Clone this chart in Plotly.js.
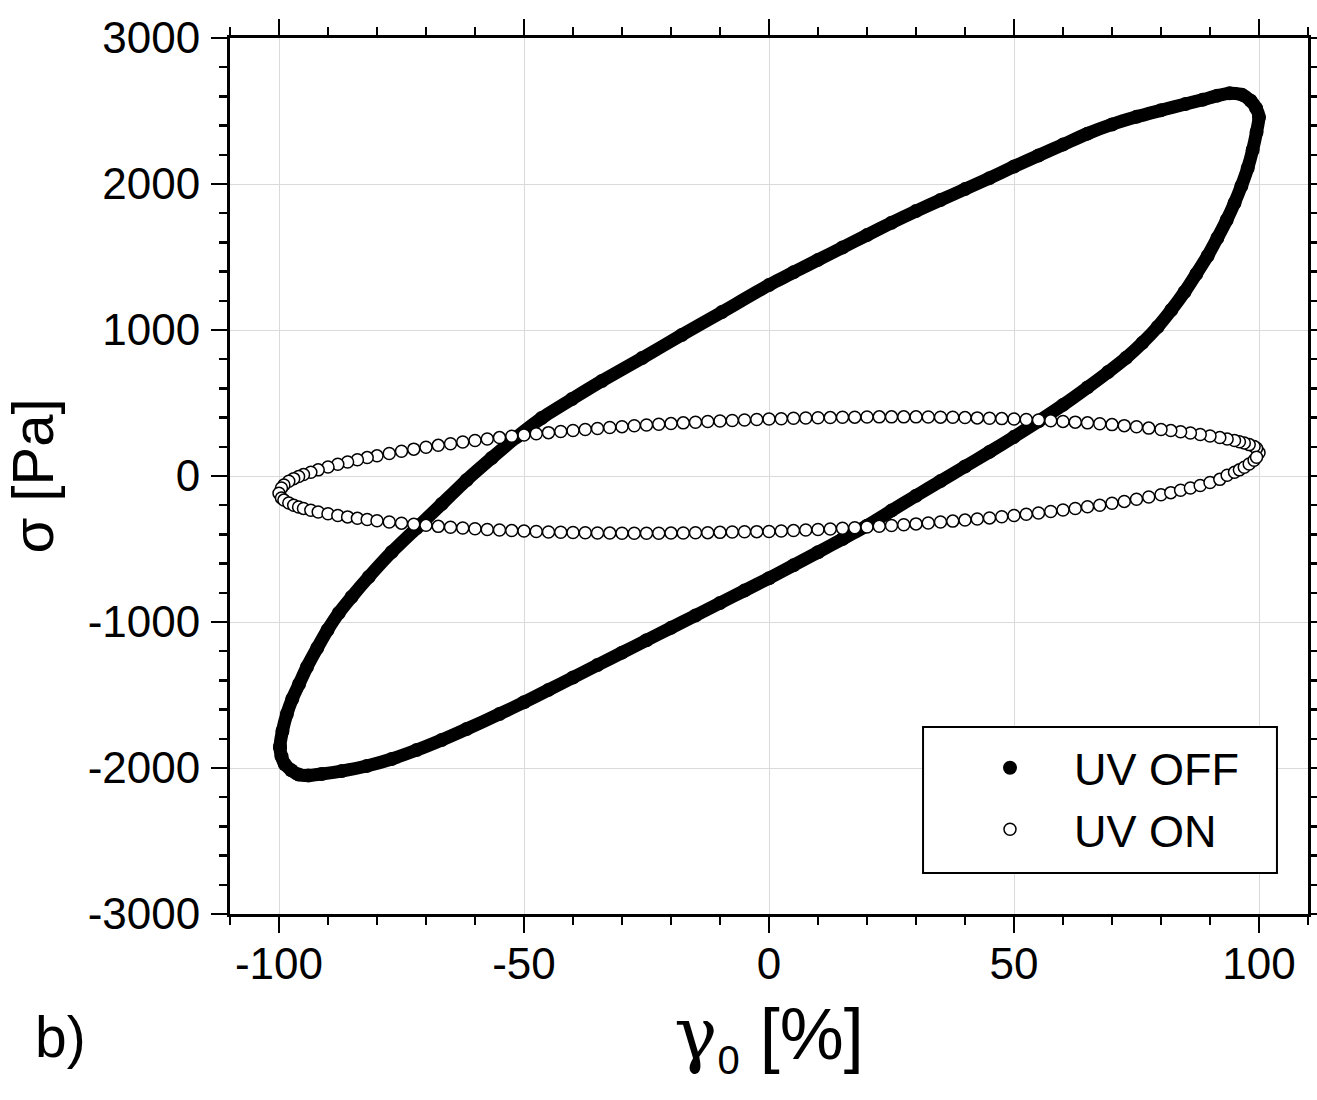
<!DOCTYPE html>
<html>
<head>
<meta charset="utf-8">
<script src="https://cdn.plot.ly/plotly-3.0.1.min.js"></script>
<style>html,body{margin:0;padding:0;background:#fff;}#chart{width:1317px;height:1100px;}</style>
</head>
<body>
<div id="chart"></div>
<script>
// UV OFF loop (strain %, stress Pa)
// upper branch: left tip -> right tip
var offUpperX = [-99.8, -99.3, -98.4, -97.3, -95.9, -94.3, -92.2, -90.1, -87.8, -85.2, -81.7, -77, -71.9, -66.8, -61.7, -56.6, -51.5, -46.4, -40.2, -34.1, -25.9, -17.8, -9.6, 0, 5, 10, 15, 20, 25, 30, 35, 40, 45, 50, 55, 60, 65, 70, 75, 80, 85, 88.5, 91.5, 94, 96.5, 98.3, 99.4, 100];
var offUpperY = [-1856, -1747, -1630, -1527, -1425, -1308, -1178, -1055, -938, -829, -692, -521, -356, -192, -27, 123, 267, 397, 527, 651, 808, 966, 1123, 1308, 1395, 1480, 1565, 1650, 1735, 1815, 1890, 1965, 2040, 2120, 2195, 2270, 2345, 2408, 2460, 2505, 2548, 2577, 2605, 2622, 2612, 2570, 2520, 2459];
// lower branch: right tip -> left tip
var offLowerX = [99.5, 98.7, 97.7, 96.4, 95, 93.4, 91.5, 89.5, 87.2, 84.8, 82.1, 79.3, 76.2, 72.9, 69.2, 65, 60, 55, 50, 45, 40, 35, 30, 25, 20, 15, 10, 5, 0, -5, -10, -15, -20, -25, -30, -35, -40, -45, -50, -55, -61.7, -66.8, -71.9, -77, -82.1, -87.2, -91.3, -94, -96, -97.5, -98.8, -99.5, -99.8];
var offLowerY = [2356, 2233, 2110, 1986, 1870, 1753, 1630, 1507, 1384, 1260, 1137, 1021, 912, 810, 712, 607, 487, 375, 268, 165, 65, -35, -135, -237, -340, -432, -522, -612, -700, -785, -870, -955, -1040, -1125, -1210, -1295, -1380, -1465, -1550, -1630, -1733, -1808, -1877, -1938, -1986, -2021, -2041, -2052, -2045, -2015, -1975, -1920, -1856];

// UV ON loop, upper edge (right tip to left tip)
var onUpperX = [100, 99.5, 99, 98, 97, 96, 95, 93.5, 92, 90, 88, 86, 84, 82, 80, 77.5, 75, 72.5, 70, 67.5, 65, 62.5, 60, 57.5, 55, 52.5, 50, 47.5, 45, 42.5, 40, 37.5, 35, 32.5, 30, 27.5, 25, 22.5, 20, 17.5, 15, 12.5, 10, 7.5, 5, 2.5, 0, -2.5, -5, -7.5, -10, -12.5, -15, -17.5, -20, -22.5, -25, -27.5, -30, -32.5, -35, -37.5, -40, -42.5, -45, -47.5, -50, -52.5, -55, -57.5, -60, -62.5, -65, -67.5, -70, -72.5, -75, -77.5, -80, -82, -84, -86, -88, -90, -92, -93.5, -95, -96, -97, -98, -99, -99.5, -100];
var onUpperY = [160, 190, 202, 215, 226, 235, 243, 254, 263, 274, 284, 294, 303, 311, 319, 328, 337, 345, 352, 358, 364, 369, 374, 379, 383, 387, 390, 393, 396, 398, 400, 402, 403, 404, 405, 405, 405, 405, 404, 403, 402, 400, 399, 397, 395, 392, 390, 387, 384, 380, 377, 373, 368, 364, 359, 354, 349, 344, 338, 332, 325, 319, 312, 305, 297, 289, 281, 272, 263, 253, 243, 233, 221, 210, 197, 184, 169, 154, 138, 126, 111, 96, 80, 62, 42, 26, 10, -3, -18, -36, -62, -82, -118];
// UV ON loop, lower edge (left tip to right tip)
var onLowerX = [-99.5, -99, -98, -97, -96, -95, -93.5, -92, -90, -88, -86, -84, -82, -80, -77.5, -75, -72.5, -70, -67.5, -65, -62.5, -60, -57.5, -55, -52.5, -50, -47.5, -45, -42.5, -40, -37.5, -35, -32.5, -30, -27.5, -25, -22.5, -20, -17.5, -15, -12.5, -10, -7.5, -5, -2.5, 0, 2.5, 5, 7.5, 10, 12.5, 15, 17.5, 20, 22.5, 25, 27.5, 30, 32.5, 35, 37.5, 40, 42.5, 45, 47.5, 50, 52.5, 55, 57.5, 60, 62.5, 65, 67.5, 70, 72.5, 75, 77.5, 80, 82, 84, 86, 88, 90, 92, 93.5, 95, 96, 97, 98, 99, 99.5];
var onLowerY = [-150, -165, -185, -200, -212, -222, -235, -246, -258, -270, -280, -290, -298, -306, -315, -323, -331, -338, -345, -351, -356, -361, -366, -370, -374, -377, -380, -383, -385, -387, -389, -390, -391, -392, -392, -392, -392, -391, -390, -389, -388, -386, -384, -382, -381, -380, -377, -374, -370, -367, -363, -358, -354, -349, -344, -339, -334, -328, -322, -315, -309, -302, -295, -287, -279, -271, -262, -253, -243, -233, -223, -211, -200, -187, -174, -159, -144, -128, -114, -98, -82, -65, -45, -23, 5, 25, 42, 60, 82, 108, 128];

var xTickVals = [-100, -50, 0, 50, 100];
var xTickText = ['-100', '-50', '0', '50', '100'];
var yTickVals = [-3000, -2000, -1000, 0, 1000, 2000, 3000];
var yTickText = ['-3000', '-2000', '-1000', '0', '1000', '2000', '3000'];
var seriesNames = ['UV OFF', 'UV ON'];

var FONT = 'Liberation Sans, Arial, Helvetica, sans-serif';

var offX = offUpperX.concat(offLowerX);
var offY = offUpperY.concat(offLowerY);

var traces = [
  {x: offX, y: offY, mode: 'lines', line: {color: '#000', width: 13, shape: 'spline', smoothing: 0.6},
   showlegend: false, hoverinfo: 'skip'},
  {x: offX, y: offY, mode: 'markers', name: seriesNames[0],
   marker: {symbol: 'circle', size: 14, color: '#000'}},
  {x: onUpperX.concat(onLowerX), y: onUpperY.concat(onLowerY), mode: 'markers', name: seriesNames[1],
   marker: {symbol: 'circle', size: 12, color: '#fff', line: {color: '#000', width: 1.5}}}
];

function axisCommon() {
  return {
    showline: true, linecolor: '#000', linewidth: 3, mirror: 'allticks',
    ticks: 'outside', ticklen: 16, tickwidth: 2.5, tickcolor: '#000',
    showgrid: true, gridcolor: '#dadada', gridwidth: 1, zeroline: false,
    tickfont: {family: FONT, size: 44, color: '#000'}
  };
}

var xa = axisCommon();
Object.assign(xa, {
  range: [-110, 110], tickmode: 'array', tickvals: xTickVals, ticktext: xTickText,
  ticklabelstandoff: -7,
  minor: {dtick: 10, tick0: 0, ticks: 'outside', ticklen: 8, tickwidth: 2.5, tickcolor: '#000', showgrid: false},
  title: {text: '<span style="font-family:DejaVu Serif">γ</span><sub><span style="font-size:40px">0</span></sub> [%]\u00a0',
          font: {family: FONT, size: 72, color: '#000'}, standoff: 22}
});
var ya = axisCommon();
Object.assign(ya, {
  range: [-3000, 3000], tickmode: 'array', tickvals: yTickVals, ticktext: yTickText,
  ticklabelstandoff: 2,
  minor: {dtick: 200, tick0: 0, ticks: 'outside', ticklen: 8, tickwidth: 2.5, tickcolor: '#000', showgrid: false},
  title: {text: 'σ [Pa]', font: {family: FONT, size: 58, color: '#000'}, standoff: 28}
});

var layout = {
  width: 1317, height: 1100,
  margin: {l: 230, r: 9, t: 38, b: 186},
  paper_bgcolor: '#fff', plot_bgcolor: '#fff',
  font: {family: FONT, color: '#000'},
  xaxis: xa, yaxis: ya,
  showlegend: true,
  legend: {x: 0.6642, y: 0.2078, xanchor: 'left', yanchor: 'top',
           bgcolor: 'rgba(0,0,0,0)', borderwidth: 0,
           font: {family: FONT, size: 45, color: '#000'}, itemwidth: 118},
  shapes: [{type: 'rect', xref: 'paper', yref: 'paper', x0: 0.6429, x1: 0.9712, y0: 0.0468, y1: 0.2135,
            line: {color: '#000', width: 2}, fillcolor: '#fff', layer: 'above'}],
  annotations: [{text: 'b)', xref: 'paper', yref: 'paper', x: -0.183, y: -0.1404,
                 xanchor: 'left', yanchor: 'middle', showarrow: false,
                 font: {family: FONT, size: 57, color: '#000'}}]
};

Plotly.newPlot('chart', traces, layout, {displayModeBar: false, staticPlot: true});
</script>
</body>
</html>
